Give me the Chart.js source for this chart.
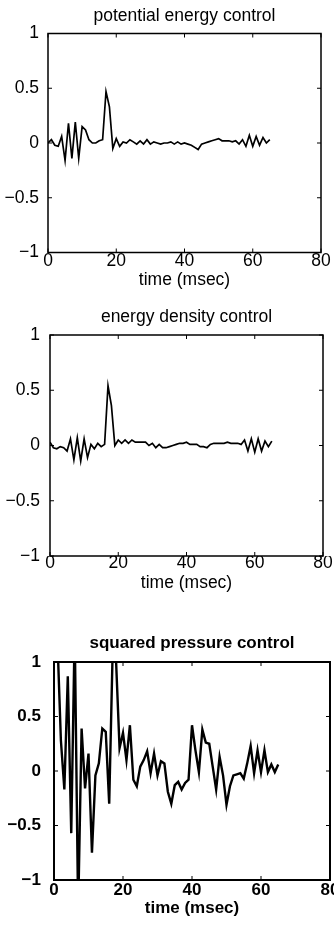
<!DOCTYPE html>
<html lang="en">
<head>
<meta charset="UTF-8">
<title>control comparison</title>
<script src="https://cdn.jsdelivr.net/npm/chart.js@4"></script>
<style>
  body { margin: 0; background: #fff; }
  canvas { position: absolute; left: 0; }
</style>
</head>
<body>
<canvas id="pe" width="334" height="300" style="top:0"></canvas>
<canvas id="ed" width="334" height="300" style="top:300px"></canvas>
<canvas id="sp" width="334" height="320" style="top:610px"></canvas>
<script>
// time axis (msec), one sample per msec
const timeMs = [0, 1, 2, 3, 4, 5, 6, 7, 8, 9, 10, 11, 12, 13, 14, 15, 16, 17, 18, 19,
  20, 21, 22, 23, 24, 25, 26, 27, 28, 29, 30, 31, 32, 33, 34, 35, 36, 37, 38, 39,
  40, 41, 42, 43, 44, 45, 46, 47, 48, 49, 50, 51, 52, 53, 54, 55, 56, 57, 58, 59,
  60, 61, 62, 63, 64, 65];

// values
const potentialEnergy = [0, 0.03, -0.02, -0.03, 0.06, -0.16, 0.18, -0.14, 0.19, -0.14,
  0.15, 0.12, 0.03, 0, 0, 0.02, 0.03, 0.47, 0.33, -0.05,
  0.04, -0.03, 0.01, 0, 0.03, 0.01, -0.01, 0.02, -0.01, 0.03,
  -0.01, 0.01, 0, -0.01, 0, 0, 0.01, -0.01, 0.01, -0.01,
  0, -0.01, -0.02, -0.04, -0.06, -0.01, 0, 0.01, 0.02, 0.03,
  0.04, 0.02, 0.02, 0.02, 0.01, 0.02, -0.01, 0.03, -0.03, 0.07,
  -0.03, 0.06, -0.02, 0.05, 0, 0.03];

const energyDensity = [0.03, -0.02, -0.03, -0.01, -0.02, -0.05, 0.06, -0.13, 0.07, -0.14,
  0.06, -0.11, 0.01, -0.03, 0.02, -0.01, 0.01, 0.54, 0.36, 0,
  0.05, 0.02, 0.05, 0.02, 0.05, 0.03, 0.03, 0.03, 0.03, 0,
  0.02, -0.02, 0.01, -0.02, -0.02, -0.01, 0, 0.01, 0.02, 0.02,
  0.03, 0.01, 0.01, 0.01, -0.01, -0.01, -0.02, 0.01, 0.02, 0.02,
  0.02, 0.02, 0.03, 0.02, 0.02, 0.02, 0.01, 0.05, -0.05, 0.06,
  -0.06, 0.06, -0.05, 0.04, -0.01, 0.04];

const squaredPressure = [1.3, 1.2, 0.28, -0.17, 0.87, -0.57, 1.3, -1.3, 0.39, -0.16,
  0.16, -0.75, -0.04, 0.07, 0.39, 0.36, -0.30, 1.1, 1.0, 0.21,
  0.35, 0.1, 0.42, -0.08, -0.14, 0.04, 0.1, 0.18, -0.02, 0.16,
  -0.04, 0.09, 0.07, -0.19, -0.30, -0.13, -0.10, -0.17, -0.11, -0.08,
  0.42, 0.19, -0.01, 0.38, 0.26, 0.25, 0.04, -0.17, 0.13, -0.04,
  -0.31, -0.14, -0.04, -0.03, -0.02, -0.07, 0.07, 0.23, -0.02, 0.19,
  -0.01, 0.19, -0.01, 0.06, -0.01, 0.06];

const xTicks = [0, 20, 40, 60, 80];
const yTicks = [-1, -0.5, 0, 0.5, 1];

Chart.defaults.font.family = '"Liberation Sans", Arial, Helvetica, sans-serif';
Chart.defaults.color = '#000';

// matlab style box with little ticks pointing inward
const boxPlugin = {
  id: 'box',
  afterDatasetsDraw(chart, args, opts) {
    const { ctx, chartArea: a, scales: { x, y } } = chart;
    ctx.save();
    ctx.strokeStyle = '#000';
    ctx.lineWidth = opts.lineWidth;
    ctx.strokeRect(a.left, a.top, a.right - a.left, a.bottom - a.top);
    ctx.lineWidth = 1;
    ctx.beginPath();
    x.ticks.forEach(t => {
      const px = x.getPixelForValue(t.value);
      ctx.moveTo(px, a.bottom); ctx.lineTo(px, a.bottom - 4);
      ctx.moveTo(px, a.top); ctx.lineTo(px, a.top + 4);
    });
    y.ticks.forEach(t => {
      const py = y.getPixelForValue(t.value);
      ctx.moveTo(a.left, py); ctx.lineTo(a.left + 4, py);
      ctx.moveTo(a.right, py); ctx.lineTo(a.right - 4, py);
    });
    ctx.stroke();
    ctx.restore();
  }
};

const fmt = v => v < 0 ? '\u2212' + Math.abs(v) : String(v);

function makePanel(id, title, values, p) {
  const font = { size: p.fontSize, weight: p.weight };
  new Chart(document.getElementById(id), {
    type: 'line',
    data: {
      labels: timeMs,
      datasets: [{
        data: timeMs.map((t, i) => ({ x: t, y: values[i] })),
        borderColor: '#000',
        borderWidth: p.lineWidth,
        pointRadius: 0,
        tension: 0,
        fill: false
      }]
    },
    options: {
      responsive: false,
      animation: false,
      devicePixelRatio: 1,
      layout: { padding: { left: 0, top: 0, right: 334 - p.right, bottom: p.layoutBottom } },
      plugins: {
        legend: { display: false },
        tooltip: { enabled: false },
        title: {
          display: true,
          fullSize: false, // centre over the plot box, not the canvas
          text: title,
          font: { ...font, lineHeight: 1.2 },
          padding: { top: p.titleTop, bottom: p.titleBottom }
        },
        box: { lineWidth: p.frameWidth }
      },
      scales: {
        x: {
          type: 'linear',
          min: 0, max: 80,
          grid: { display: false, drawTicks: false },
          border: { display: false },
          afterBuildTicks: s => { s.ticks = xTicks.map(v => ({ value: v })); },
          ticks: { font: { ...font, lineHeight: 1 }, padding: p.xTickPad, maxRotation: 0, callback: fmt },
          title: {
            display: true,
            text: 'time (msec)',
            font: { ...font, lineHeight: 1.2 },
            padding: { top: 0, bottom: p.xTitleBottom }
          },
          afterFit: s => { s.height = p.xHeight; s.paddingLeft = 0; s.paddingRight = 0; }
        },
        y: {
          min: -1, max: 1,
          grid: { display: false, drawTicks: false },
          border: { display: false },
          afterBuildTicks: s => { s.ticks = yTicks.map(v => ({ value: v })); },
          ticks: { font: { ...font, lineHeight: 1 }, padding: p.yTickPad, callback: fmt },
          afterFit: s => { s.width = p.left; s.paddingTop = 0; s.paddingBottom = 0; }
        }
      }
    },
    plugins: [boxPlugin]
  });
}

makePanel('pe', 'potential energy control', potentialEnergy, {
  fontSize: 17.5, weight: 'normal', lineWidth: 1.7, frameWidth: 1.5,
  left: 48, right: 321, titleTop: 5.5, titleBottom: 7,
  xTickPad: 0, xHeight: 40, xTitleBottom: 1.5, layoutBottom: 7.5, yTickPad: 9
});

makePanel('ed', 'energy density control', energyDensity, {
  fontSize: 17.5, weight: 'normal', lineWidth: 1.7, frameWidth: 1.5,
  left: 50, right: 323, titleTop: 7, titleBottom: 7,
  xTickPad: -1.5, xHeight: 40, xTitleBottom: 2, layoutBottom: 4, yTickPad: 10
});

makePanel('sp', 'squared pressure control', squaredPressure, {
  fontSize: 17, weight: 'bold', lineWidth: 2.4, frameWidth: 2,
  left: 54, right: 330, titleTop: 23.5, titleBottom: 8.1,
  xTickPad: 1.5, xHeight: 50, xTitleBottom: 11.5, layoutBottom: 0, yTickPad: 13
});
</script>
</body>
</html>
